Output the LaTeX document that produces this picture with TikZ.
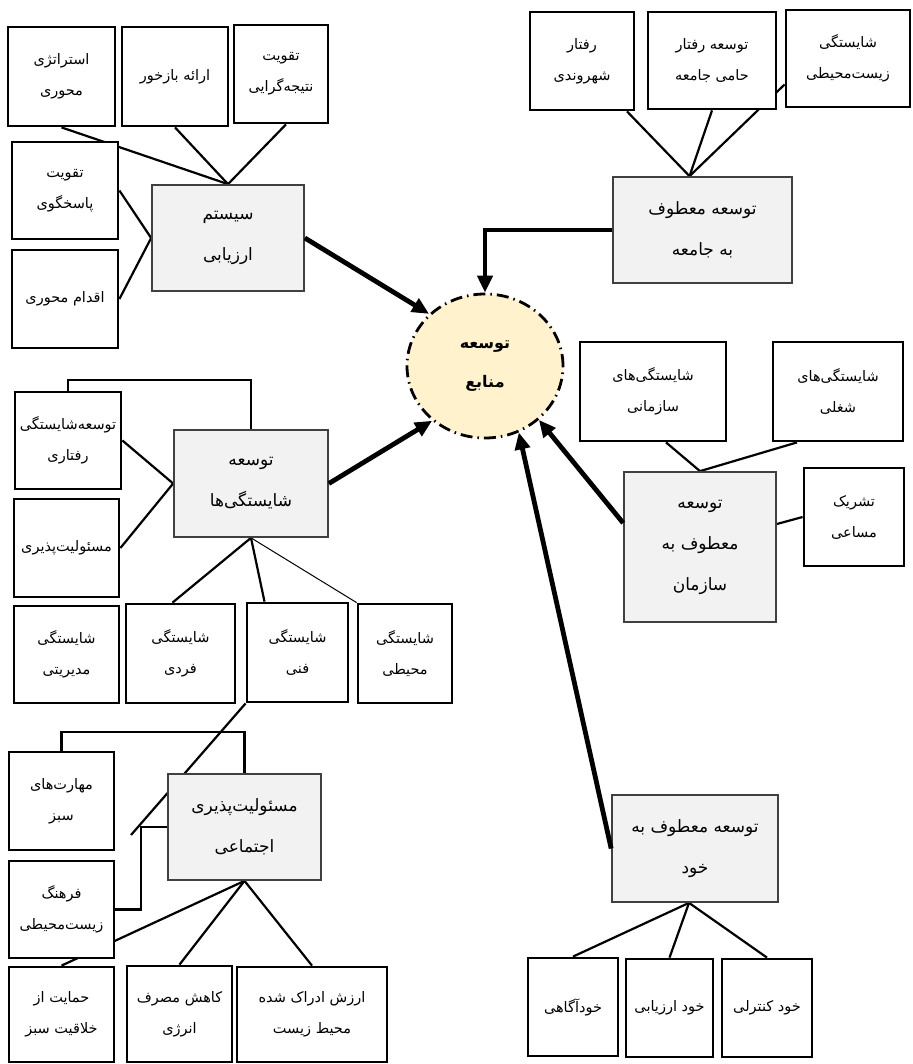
\documentclass[tikz,border=0pt]{standalone}
\usepackage{fontspec}
\usepackage{xcolor}
\usetikzlibrary{arrows.meta,backgrounds,shapes.geometric}
\newfontfamily\farsi[Script=Arabic]{DejaVu Sans}
\TeXXeTstate=1
\definecolor{hubfill}{HTML}{F2F2F2}
\definecolor{corefill}{HTML}{FFF2CC}
\newcommand{\rl}[1]{\beginR #1\endR}
\newcommand{\cell}[7]{\node[#1,minimum width=#5pt,minimum height=#6pt] (#2) at (#3,#4) {#7}}

\begin{document}
\begin{tikzpicture}[x=1pt,y=-1pt,
	leaf/.style={draw,line width=2.8pt,fill=white,inner sep=0pt,align=center,
		font=\farsi\fontsize{14.5}{31}\selectfont},
	hub/.style={leaf,draw=black!75,line width=1.7pt,fill=hubfill,
		font=\farsi\fontsize{17}{41}\selectfont},
	core/.style={ellipse,draw,line width=2.8pt,dash pattern=on 12pt off 5pt on 1.5pt off 5pt,
		fill=corefill,minimum width=156pt,minimum height=144pt,inner sep=0pt,align=center,
		font=\farsi\bfseries\fontsize{16}{39}\selectfont},
	link/.style={line width=2.2pt},
	flow/.style={line width=4.8pt,-{Triangle[length=17pt,width=15pt]}}]
	\useasboundingbox (0,0) rectangle (912,1064);
	\cell{leaf}{strat}{61.5}{76.5}{107}{99}{\rl{استراتژی}\\\rl{محوری}};
	\cell{leaf}{bazkhor}{175}{76.5}{106}{99}{\rl{ارائه بازخور}};
	\cell{leaf}{natije}{281}{74}{94}{98}{\rl{تقویت}\\\rl{نتیجه^^^^200cگرایی}};
	\cell{leaf}{pasokh}{65}{190.5}{106}{97}{\rl{تقویت}\\\rl{پاسخگوی}};
	\cell{leaf}{eqdam}{65}{299}{106}{98}{\rl{اقدام محوری}};
	\cell{hub}{arzyabi}{228}{238}{152}{106}{\rl{سیستم}\\\rl{ارزیابی}};
	\cell{leaf}{shahrvandi}{582}{61}{104}{98}{\rl{رفتار}\\\rl{شهروندی}};
	\cell{leaf}{hami}{712}{60.5}{128}{97}{\rl{توسعه رفتار}\\\rl{حامی جامعه}};
	\cell{leaf}{zist}{848}{58.5}{124}{97}{\rl{شایستگی}\\\rl{زیست^^^^200cمحیطی}};
	\cell{hub}{jame}{702.5}{230}{179}{106}{\rl{توسعه معطوف}\\\rl{به جامعه}};
	\node[core] (res) at (485,366) {\rl{توسعه}\\\rl{منابع}};
	\cell{leaf}{raftari}{68}{440.5}{106}{97}{\rl{توسعه^^^^200cشایستگی}\\\rl{رفتاری}};
	\cell{leaf}{masool}{66.5}{548}{105}{98}{\rl{مسئولیت^^^^200cپذیری}};
	\cell{leaf}{modiriati}{66.5}{654.5}{105}{97}{\rl{شایستگی}\\\rl{مدیریتی}};
	\cell{leaf}{fardi}{180.5}{653.5}{109}{99}{\rl{شایستگی}\\\rl{فردی}};
	\cell{leaf}{fanni}{297.5}{652.5}{101}{99}{\rl{شایستگی}\\\rl{فنی}};
	\cell{leaf}{mohiti}{405}{653.5}{94}{99}{\rl{شایستگی}\\\rl{محیطی}};
	\cell{hub}{shayestegi}{251}{483.5}{154}{107}{\rl{توسعه}\\\rl{شایستگی^^^^200cها}};
	\cell{leaf}{sazmani}{653}{391.5}{146}{99}{\rl{شایستگی^^^^200cهای}\\\rl{سازمانی}};
	\cell{leaf}{shoghli}{838}{391.5}{130}{99}{\rl{شایستگی^^^^200cهای}\\\rl{شغلی}};
	\cell{leaf}{tashrik}{854}{517}{100}{98}{\rl{تشریک}\\\rl{مساعی}};
	\cell{hub}{sazman}{700}{547}{152}{150}{\rl{توسعه}\\\rl{معطوف به}\\\rl{سازمان}};
	\cell{leaf}{maharat}{61.5}{801}{105}{98}{\rl{مهارت^^^^200cهای}\\\rl{سبز}};
	\cell{leaf}{farhang}{61.5}{909.5}{105}{97}{\rl{فرهنگ}\\\rl{زیست^^^^200cمحیطی}};
	\cell{leaf}{hemayat}{61.5}{1014.5}{105}{95}{\rl{حمایت از}\\\rl{خلاقیت سبز}};
	\cell{leaf}{kahesh}{179.5}{1014}{105}{96}{\rl{کاهش مصرف}\\\rl{انرژی}};
	\cell{leaf}{arzesh}{312}{1014.5}{150}{95}{\rl{ارزش ادراک شده}\\\rl{محیط زیست}};
	\cell{hub}{ejtemai}{244.5}{827}{153}{106}{\rl{مسئولیت^^^^200cپذیری}\\\rl{اجتماعی}};
	\cell{hub}{khod}{695}{848.5}{166}{107}{\rl{توسعه معطوف به}\\\rl{خود}};
	\cell{leaf}{agahi}{573}{1007}{90}{98}{\rl{خودآگاهی}};
	\cell{leaf}{khodarz}{669.5}{1008}{87}{98}{\rl{خود ارزیابی}};
	\cell{leaf}{kontroli}{767}{1008}{90}{98}{\rl{خود کنترلی}};
	\coordinate (fannitail) at (131,835);
	\begin{scope}[on background layer]
	\draw[link] (arzyabi.north) -- (strat.south);
	\draw[link] (arzyabi.north) -- (bazkhor.south);
	\draw[link] (arzyabi.north) -- ([xshift=5pt]natije.south);
	\draw[link] (arzyabi.west) -- (pasokh.east);
	\draw[link] (arzyabi.west) -- (eqdam.east);
	\draw[link] ([xshift=-13pt]jame.north) -- ([xshift=45pt]shahrvandi.south);
	\draw[link] ([xshift=-13pt]jame.north) -- (hami.south);
	\draw[link] ([xshift=-13pt]jame.north) -- ([yshift=-26pt]zist.west);
	\draw[link] (shayestegi.north) -- ++(0,-49) -| (raftari.north);
	\draw[link] (shayestegi.west) -- (raftari.east);
	\draw[link] (shayestegi.west) -- (masool.east);
	\draw[link] (shayestegi.south) -- ([xshift=-8pt]fardi.north);
	\draw[link] (shayestegi.south) -- ([xshift=-33pt]fanni.north);
	\draw[line width=1pt] (shayestegi.south) -- (mohiti.north west);
	\draw[link] ([xshift=13pt]sazmani.south) -- (sazman.north);
	\draw[link] ([xshift=-41pt]shoghli.south) -- (sazman.north);
	\draw[link] ([yshift=23pt]sazman.east) -- (tashrik.west);
	\draw[link] (fanni.south west) -- (fannitail);
	\draw[link] (ejtemai.north) -- ++(0,-41) -| (maharat.north);
	\draw[link] (ejtemai.west) -- ++(-26,0) |- (farhang.east);
	\draw[link] (ejtemai.south) -- (hemayat.north);
	\draw[link] (ejtemai.south) -- (kahesh.north);
	\draw[link] (ejtemai.south) -- (arzesh.north);
	\draw[link] ([xshift=-6pt]khod.south) -- (agahi.north);
	\draw[link] ([xshift=-6pt]khod.south) -- (khodarz.north);
	\draw[link] ([xshift=-6pt]khod.south) -- (kontroli.north);
	\end{scope}
	\draw[flow] (arzyabi.east) -- (res.137);
	\draw[flow] (jame.west) -| (res.north);
	\draw[flow] (shayestegi.east) -- (res.-134);
	\draw[flow] ([yshift=24pt]sazman.west) -- (res.-45);
	\draw[flow] (khod.west) -- (res.-63);
\end{tikzpicture}
\end{document}
